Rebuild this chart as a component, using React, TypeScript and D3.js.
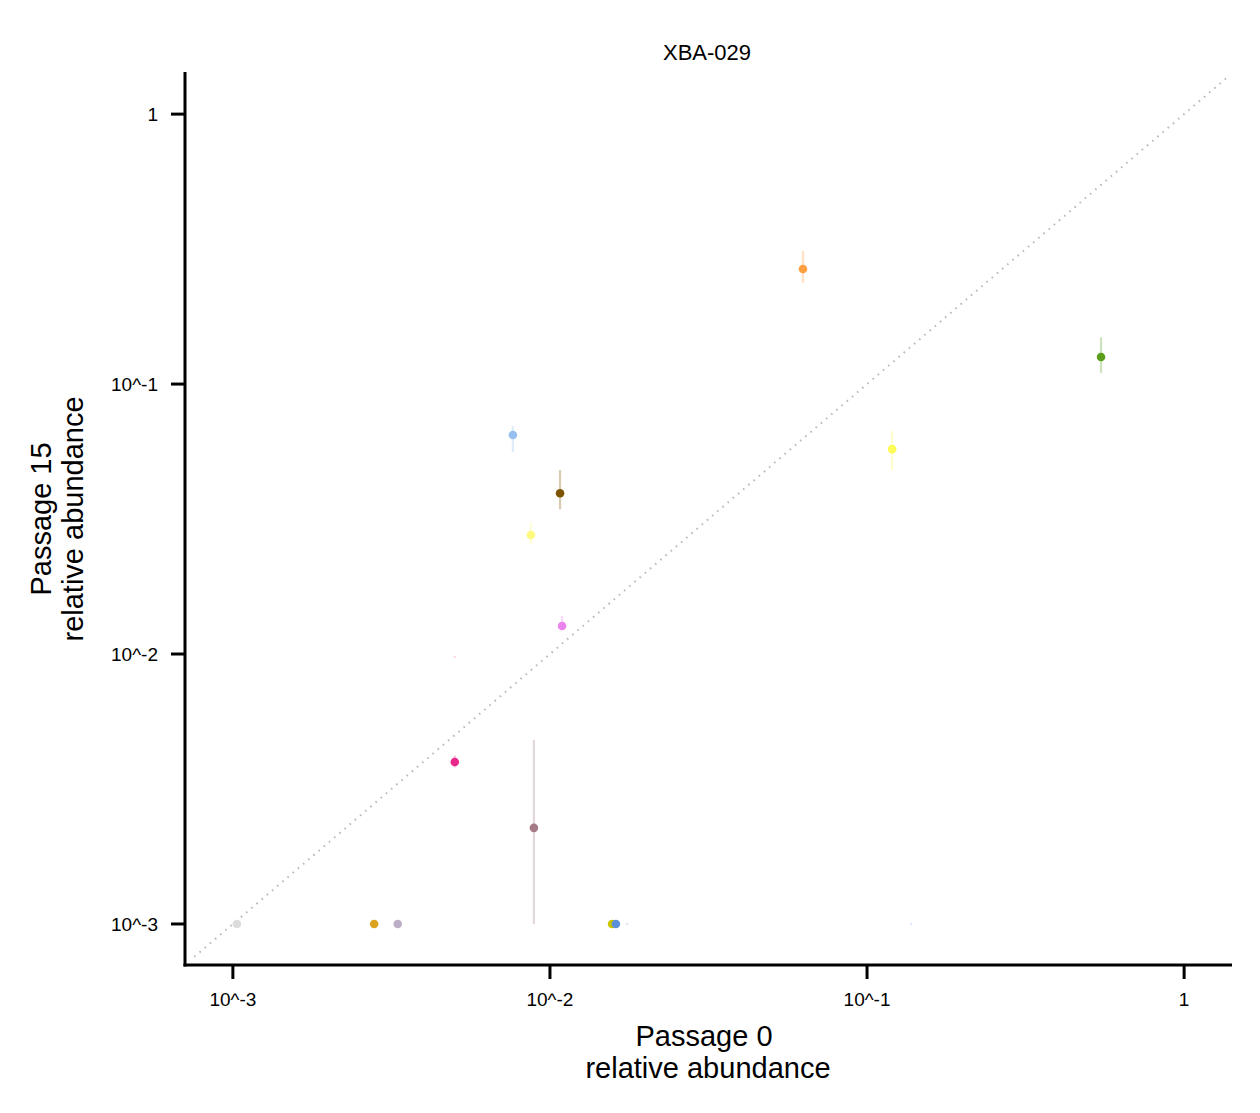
import * as d3 from "d3";

// relative abundance, passage 0 (x) vs passage 15 (y), with y error range
const p0 = [0.00103, 0.00279, 0.00331, 0.0157, 0.01614, 0.00501, 0.0089, 0.01092, 0.00871, 0.01076, 0.00764, 0.0628, 0.120, 0.547, 0.00501, 0.1377, 0.0175];
const p15 = [0.001, 0.001, 0.001, 0.001, 0.001, 0.00398, 0.00227, 0.0127, 0.0276, 0.0394, 0.0648, 0.267, 0.0574, 0.126, 0.00975, 0.001, 0.001];
const p15Low = [0.001, 0.001, 0.001, 0.001, 0.001, 0.0038, 0.001, 0.01227, 0.0255, 0.0344, 0.056, 0.237, 0.048, 0.110, 0.0097, 0.001, 0.001];
const p15High = [0.001, 0.001, 0.001, 0.001, 0.001, 0.0042, 0.0048, 0.01383, 0.0308, 0.048, 0.0699, 0.311, 0.067, 0.149, 0.0098, 0.001, 0.001];
const taxa = ["t1", "t2", "t3", "t4", "t5", "t6", "t7", "t8", "t9", "t10", "t11", "t12", "t13", "t14", "t15", "t16", "t17"];
const palette = ["#dcdcdc", "#dca31c", "#bcaec4", "#c9c400", "#5b8fd8", "#e8288a", "#a67b87", "#ec84ec", "#fdfa7e", "#7e5300", "#97c0f0", "#ffa040", "#fdfb55", "#5b9e1c", "#f4a0c0", "#b0cff0", "#c8b8e0"];
const faint = [false, false, false, false, false, false, false, false, false, false, false, false, false, false, true, true, true];

const tickValues = [0.001, 0.01, 0.1, 1];
const tickLabels = ["10^-3", "10^-2", "10^-1", "1"];

const W = 1260;
const H = 1113;
const font = "'Liberation Sans', Arial, sans-serif";

export default function App() {
  const x = d3.scaleLog().domain([Math.pow(10, -3.151), Math.pow(10, 0.151)]).range([185, 1232]);
  const y = d3.scaleLog().domain([Math.pow(10, -3.152), Math.pow(10, 0.156)]).range([965, 72]);

  // y = x reference line, clipped to panel
  const lo = Math.max(x.domain()[0], y.domain()[0]);
  const hi = Math.min(x.domain()[1], y.domain()[1]);
  const diag = d3.line<number>().x((d) => x(d)).y((d) => y(d))([lo * 1.07, hi * 0.96]);

  const idx = d3.range(p0.length);

  return (
    <svg width={W} height={H} style={{ position: "absolute", left: 0, top: 0 }}>
      <rect width={W} height={H} fill="#ffffff" />
      <text x={707} y={60} textAnchor="middle" fontFamily={font} fontSize={22}>XBA-029</text>

      <path d={diag ?? ""} stroke="#bababa" strokeWidth={2} strokeDasharray="1.6 5.2" fill="none" />

      {idx.map((i) =>
        faint[i] ? null : (
          <line key={"e" + taxa[i]} x1={x(p0[i])} x2={x(p0[i])} y1={y(p15Low[i])} y2={y(p15High[i])}
            stroke={palette[i]} strokeOpacity={0.3} strokeWidth={2.2} />
        )
      )}
      {idx.map((i) => (
        <circle key={"p" + taxa[i]} cx={x(p0[i])} cy={y(p15[i])} r={faint[i] ? 1.3 : 4.3}
          fill={palette[i]} fillOpacity={faint[i] ? 0.4 : 1} />
      ))}

      {/* axes */}
      <line x1={185} x2={185} y1={72} y2={966.5} stroke="#000" strokeWidth={3} />
      <line x1={183.5} x2={1232} y1={965} y2={965} stroke="#000" strokeWidth={3} />
      {tickValues.map((t, i) => (
        <g key={"yt" + i}>
          <line x1={171} x2={185} y1={y(t)} y2={y(t)} stroke="#000" strokeWidth={3} />
          <text x={158} y={y(t)} dy="0.36em" textAnchor="end" fontFamily={font} fontSize={19}>{tickLabels[i]}</text>
        </g>
      ))}
      {tickValues.map((t, i) => (
        <g key={"xt" + i}>
          <line x1={x(t)} x2={x(t)} y1={965} y2={979} stroke="#000" strokeWidth={3} />
          <text x={x(t)} y={1006} textAnchor="middle" fontFamily={font} fontSize={19}>{tickLabels[i]}</text>
        </g>
      ))}

      <text x={704} y={1046} textAnchor="middle" fontFamily={font} fontSize={29}>Passage 0</text>
      <text x={708} y={1078} textAnchor="middle" fontFamily={font} fontSize={29}>relative abundance</text>
      <g transform="translate(51,519) rotate(-90)">
        <text x={0} y={0} textAnchor="middle" fontFamily={font} fontSize={29}>Passage 15</text>
      </g>
      <g transform="translate(83,519) rotate(-90)">
        <text x={0} y={0} textAnchor="middle" fontFamily={font} fontSize={29}>relative abundance</text>
      </g>
    </svg>
  );
}
